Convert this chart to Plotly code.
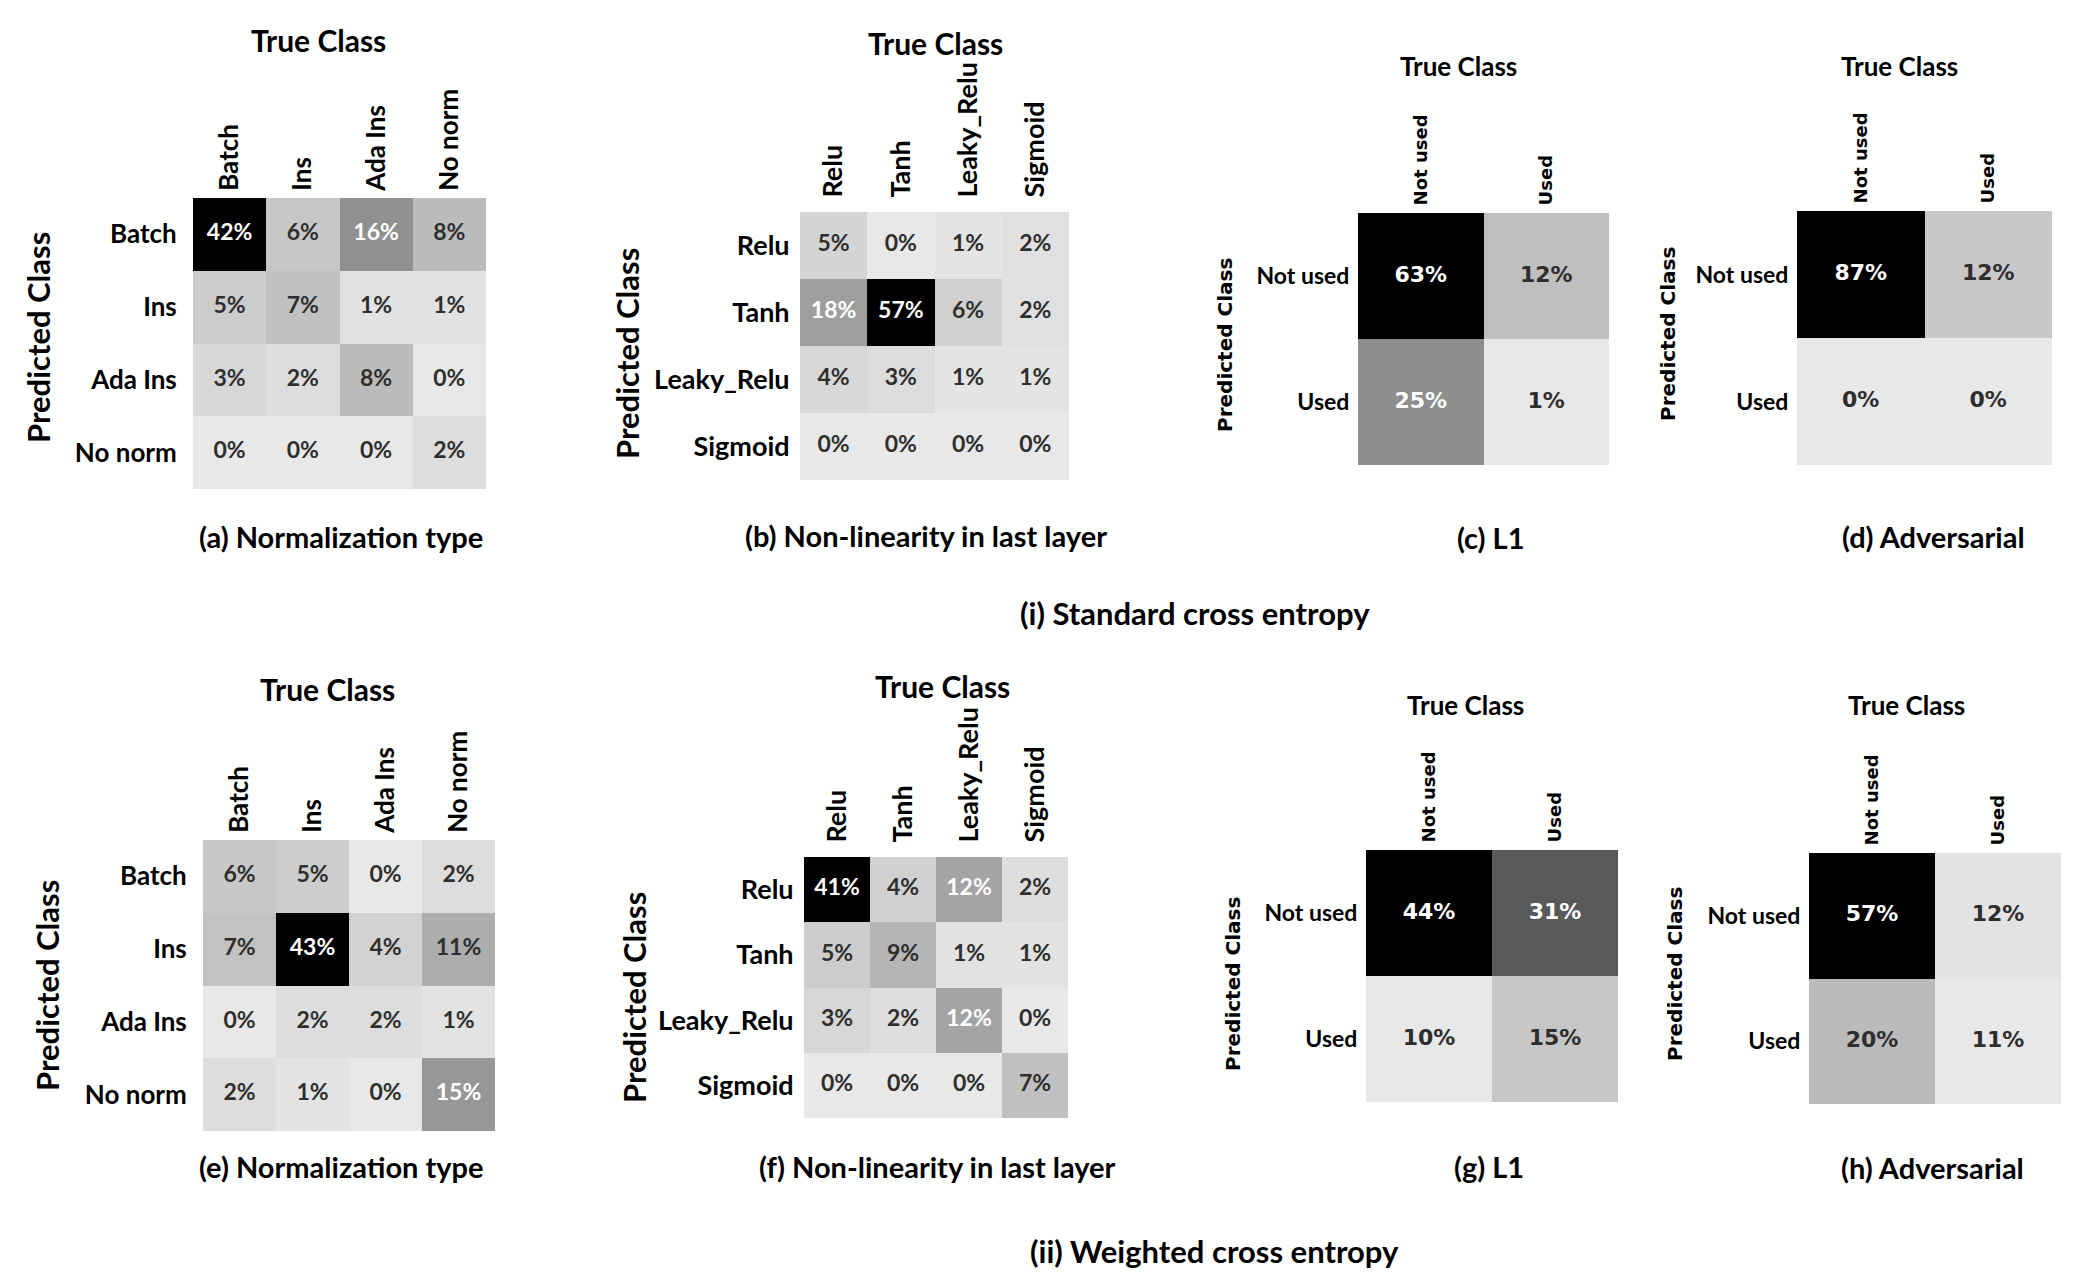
import plotly.graph_objects as go

# canvas size (px)
W, H = 2097, 1287

# class names
norm_classes = ["Batch", "Ins", "Ada Ins", "No norm"]
act_classes = ["Relu", "Tanh", "Leaky_Relu", "Sigmoid"]
use_classes = ["Not used", "Used"]

# confusion matrices in %, rows = predicted, cols = true
std_norm = [[42, 6, 16, 8], [5, 7, 1, 1], [3, 2, 8, 0], [0, 0, 0, 2]]
std_act = [[5, 0, 1, 2], [18, 57, 6, 2], [4, 3, 1, 1], [0, 0, 0, 0]]
std_l1 = [[63, 12], [25, 1]]
std_adv = [[87, 12], [0, 0]]
wce_norm = [[6, 5, 0, 2], [7, 43, 4, 11], [0, 2, 2, 1], [2, 1, 0, 15]]
wce_act = [[41, 4, 12, 2], [5, 9, 1, 1], [3, 2, 12, 0], [0, 0, 0, 7]]
wce_l1 = [[44, 31], [10, 15]]
wce_adv = [[57, 12], [20, 11]]

captions = ["(a) Normalization type", "(b) Non-linearity in last layer", "(c) L1", "(d) Adversarial",
            "(e) Normalization type", "(f) Non-linearity in last layer", "(g) L1", "(h) Adversarial"]
section_titles = ["(i) Standard cross entropy", "(ii) Weighted cross entropy"]

FONT = "Lato, 'Open Sans', sans-serif"
VERD = "'DejaVu Sans', Verdana, sans-serif"

# text styles for the two kinds of panel
big = dict(cell=(FONT, 23), xtick=(FONT, 26), ytick=(FONT, 26), true=(FONT, 30), pred=(FONT, 31),
           xlen=1, ylen=10)
mid = dict(big, xtick=(FONT, 27), ytick=(FONT, 27), xlen=8, ylen=4)
small = dict(cell=(VERD, 22), xtick=(VERD, 18), ytick=(FONT, 23), true=(FONT, 26), pred=(VERD, 20),
             xlen=3, ylen=3)

# layout of each panel in pixels: heatmap box, "True Class", "Predicted Class", caption
panels = [
    dict(z=std_norm, labels=norm_classes, box=(193, 198, 486, 489), true=(318, 40), pred=(38, 338), cap=(341, 536), st=big),
    dict(z=std_act, labels=act_classes, box=(800, 212, 1069, 480), true=(935, 43), pred=(627, 354), cap=(926, 535), st=mid),
    dict(z=std_l1, labels=use_classes, box=(1358, 213, 1609, 465), true=(1458, 66), pred=(1225, 345), cap=(1490, 537), st=small),
    dict(z=std_adv, labels=use_classes, box=(1797, 211, 2052, 465), true=(1899, 66), pred=(1668, 334), cap=(1933, 536), st=small),
    dict(z=wce_norm, labels=norm_classes, box=(203, 840, 495, 1131), true=(327, 689), pred=(47, 986), cap=(341, 1166), st=big),
    dict(z=wce_act, labels=act_classes, box=(804, 857, 1068, 1118), true=(942, 686), pred=(634, 998), cap=(937, 1166), st=mid),
    dict(z=wce_l1, labels=use_classes, box=(1366, 850, 1618, 1102), true=(1465, 705), pred=(1233, 984), cap=(1489, 1166), st=small),
    dict(z=wce_adv, labels=use_classes, box=(1809, 853, 2061, 1104), true=(1906, 705), pred=(1675, 974), cap=(1932, 1167), st=small),
]
section_pos = [(1195, 613), (1214, 1251)]


def px(x, y):
    return x / W, 1 - y / H


def bold(spec, color="black"):
    return dict(family=spec[0], size=spec[1], color=color, weight="bold")


fig = go.Figure()
annotations = []

for i, p in enumerate(panels, start=1):
    z = p["z"]
    labels = p["labels"]
    st = p["st"]
    n = len(labels)
    zmin = min(min(r) for r in z)
    zmax = max(max(r) for r in z)
    xa = "x" if i == 1 else f"x{i}"
    ya = "y" if i == 1 else f"y{i}"

    fig.add_trace(go.Heatmap(
        z=z, x=labels, y=labels,
        zmin=zmin, zmax=zmax,
        colorscale=[[0, "#e8e8e8"], [1, "#000000"]],
        showscale=False, hoverinfo="skip",
        xaxis=xa, yaxis=ya,
    ))

    # cell values, white text on the dark cells
    xs, ys, txt, cols = [], [], [], []
    for r in range(n):
        for c in range(n):
            v = z[r][c]
            xs.append(labels[c])
            ys.append(labels[r])
            txt.append(f"{v}%")
            frac = (v - zmin) / (zmax - zmin) if zmax > zmin else 0
            cols.append("white" if frac > 0.27 else "#2e2e2e")
    cell_font = bold(st["cell"])
    cell_font["color"] = cols
    fig.add_trace(go.Scatter(
        x=xs, y=ys, text=txt, mode="text",
        textfont=cell_font,
        hoverinfo="skip", showlegend=False,
        xaxis=xa, yaxis=ya,
    ))

    x0, y0, x1, y1 = p["box"]
    fig.layout[f"xaxis{'' if i == 1 else i}"] = dict(
        domain=[x0 / W, x1 / W], anchor=ya, side="top",
        range=[-0.5, n - 0.5], tickangle=-90, tickfont=bold(st["xtick"]),
        ticks="outside", ticklen=st["xlen"], tickcolor="rgba(0,0,0,0)",
        showgrid=False, zeroline=False, showline=False, fixedrange=True,
    )
    fig.layout[f"yaxis{'' if i == 1 else i}"] = dict(
        domain=[1 - y1 / H, 1 - y0 / H], anchor=xa,
        range=[n - 0.5, -0.5], tickfont=bold(st["ytick"]),
        ticks="outside", ticklen=st["ylen"], tickcolor="rgba(0,0,0,0)",
        showgrid=False, zeroline=False, showline=False, fixedrange=True,
    )

    tx, ty = px(*p["true"])
    annotations.append(dict(
        x=tx, y=ty, xref="paper", yref="paper", text="True Class", showarrow=False,
        xanchor="center", yanchor="middle", font=bold(st["true"]),
    ))
    pxx, pyy = px(*p["pred"])
    annotations.append(dict(
        x=pxx, y=pyy, xref="paper", yref="paper", text="Predicted Class", showarrow=False,
        textangle=-90, xanchor="center", yanchor="middle", font=bold(st["pred"]),
    ))
    cx, cy = px(*p["cap"])
    annotations.append(dict(
        x=cx, y=cy, xref="paper", yref="paper", text=captions[i - 1], showarrow=False,
        xanchor="center", yanchor="middle", font=bold((FONT, 29)),
    ))

for title, pos in zip(section_titles, section_pos):
    sx, sy = px(*pos)
    annotations.append(dict(
        x=sx, y=sy, xref="paper", yref="paper", text=title, showarrow=False,
        xanchor="center", yanchor="middle", font=bold((FONT, 31)),
    ))

fig.update_layout(
    width=W, height=H,
    margin=dict(l=0, r=0, t=0, b=0),
    paper_bgcolor="white", plot_bgcolor="white",
    showlegend=False,
    annotations=annotations,
)

# drop the default page margin so the figure sits at the window origin
fig.write_html("out.html", config={"displayModeBar": False},
               post_script="document.body.style.margin='0px';")
